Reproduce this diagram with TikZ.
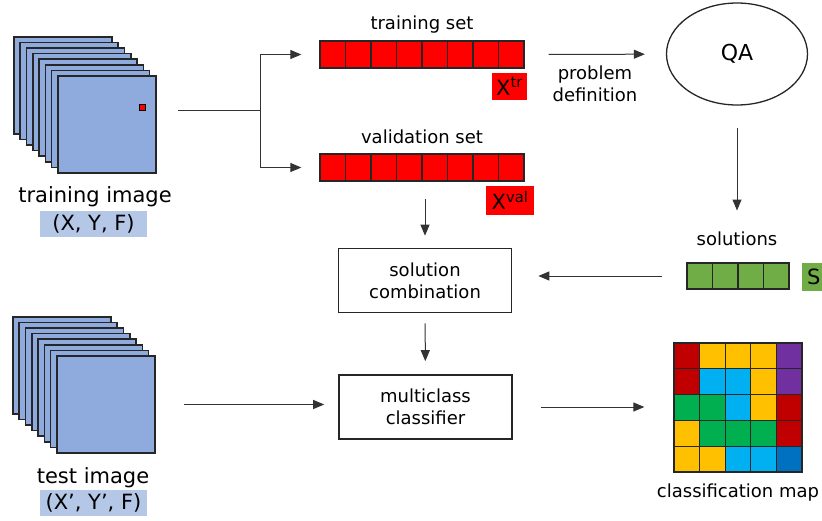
\documentclass[tikz,border=0pt]{standalone}
\usepackage{fontspec}
\setmainfont{DejaVu Sans}
\usetikzlibrary{arrows.meta,shapes.geometric}

\definecolor{imgblue}{HTML}{8FAADC}
\definecolor{lblblue}{HTML}{B4C7E7}
\definecolor{setred}{HTML}{FF0000}
\definecolor{solgreen}{HTML}{70AD47}
\definecolor{mapred}{HTML}{C00000}
\definecolor{mapyellow}{HTML}{FFC000}
\definecolor{mapcyan}{HTML}{00B0F0}
\definecolor{mapgreen}{HTML}{00B050}
\definecolor{mappurple}{HTML}{7030A0}
\definecolor{mapblue}{HTML}{0070C0}

\begin{document}
\begin{tikzpicture}[x=1pt, y=-1pt, font=\fontsize{18}{22}\selectfont,
	>={Triangle[length=11pt,width=9pt]},
	frame/.style={draw=black!85, line width=1.6pt, fill=imgblue, minimum width=98pt, minimum height=97pt, inner sep=0pt, anchor=north west},
	cell/.style={draw=black!85, line width=1.3pt, minimum width=25.5pt, minimum height=27pt, inner sep=0pt},
	tag/.style={fill=#1, inner sep=0pt, font=\fontsize{21}{24}\selectfont},
	procbox/.style={draw=black!85, line width=1.6pt, minimum width=173pt, minimum height=64pt, align=center},
	biglbl/.style={font=\fontsize{21}{24}\selectfont},
	conn/.style={->, draw=black!80, line width=1pt}]
	\useasboundingbox (0,0) rectangle (822,520);
	\clip (0,0) rectangle (822,520);
	% training image
	\foreach \i in {0,...,7}
		\node[frame] (tf\i) at ({13+6.3*\i},{36+5.6*\i}) {};
	\node[draw=black, fill=setred, line width=0.8pt, minimum size=6pt, inner sep=0pt] (px) at (142,107) {};
	\node[biglbl] (trlbl) at (95,197) {training image};
	\node[biglbl, fill=lblblue, minimum width=107pt, minimum height=26pt, inner sep=0pt] (trxyf) at (93.5,224) {(X, Y, F)};
	% test image
	\foreach \i in {0,...,7}
		\node[frame] (sf\i) at ({12+6.3*\i},{316+5.6*\i}) {};
	\node[biglbl] (tslbl) at (93,478) {test image};
	\node[biglbl, fill=lblblue, minimum width=107pt, minimum height=26pt, inner sep=0pt] (tsxyf) at (93.5,503) {(X\textquoteright, Y\textquoteright, F)};
	% training and validation sets
	\foreach \i in {1,...,8} {
		\node[cell, fill=setred] (ts\i) at ({320+25.5*(\i-0.5)},54.5) {};
		\node[cell, fill=setred] (vs\i) at ({320+25.5*(\i-0.5)},167.5) {};
	}
	\node (trsetlbl) at (422,25) {training set};
	\node (valsetlbl) at (422,137) {validation set};
	\node[tag=setred, minimum width=35pt, minimum height=27pt] (xtr) at (509.5,86.5) {X\textsuperscript{tr}};
	\node[tag=setred, minimum width=48pt, minimum height=29pt] (xval) at (510,200.5) {X\textsuperscript{val}};
	% QA and solutions
	\node[ellipse, draw=black!85, line width=1.3pt, minimum width=141pt, minimum height=102pt, font=\fontsize{22}{24}\selectfont] (qa) at (737,54) {QA};
	\node[align=center] (pdef) at (595,84) {problem\\definition};
	\node (sollbl) at (737,239) {solutions};
	\foreach \i in {1,...,4}
		\node[cell, fill=solgreen, minimum height=26pt] (sc\i) at ({687+25.5*(\i-0.5)},276) {};
	\node[tag=solgreen, anchor=west, minimum width=20pt, minimum height=28pt, inner xsep=5pt] (stag) at (802,277) {S};
	% processing boxes
	\node[procbox] (comb) at (425,280.5) {solution\\combination};
	\node[procbox] (cls) at (425.5,407) {multiclass\\classifier};
	% classification map
	\foreach \row [count=\r] in {{mapred,mapyellow,mapyellow,mapyellow,mappurple},
			{mapred,mapcyan,mapcyan,mapyellow,mappurple},
			{mapgreen,mapgreen,mapcyan,mapyellow,mapred},
			{mapyellow,mapgreen,mapgreen,mapgreen,mapred},
			{mapyellow,mapyellow,mapcyan,mapcyan,mapblue}}
		\foreach \col [count=\c] in \row
			\node[cell, fill=\col, minimum width=25.6pt, minimum height=25.8pt] (m\r\c) at ({674+25.6*(\c-0.5)},{343+25.8*(\r-0.5)}) {};
	\node (maplbl) at (738,493) {classification map};
	% connectors
	\coordinate (trout) at (178,110);
	\coordinate (split) at (260,110);
	\draw[draw=black!80, line width=1pt] (trout) -- (split);
	\draw[conn, shorten >=18pt] (split) |- (ts1);
	\draw[conn, shorten >=18pt] (split) |- (vs1);
	\draw[conn, shorten <=24pt, shorten >=21pt] (ts8) -- (qa);
	\draw[conn, shorten <=22pt, shorten >=18pt] (qa) -- (sollbl);
	\draw[conn, shorten <=24pt, shorten >=26pt] (sc1.west) -- (sc1.west -| comb.east);
	\draw[conn, shorten <=17pt, shorten >=12pt] (comb.north |- vs1.south) -- (comb.north);
	\draw[conn, shorten <=10pt, shorten >=13pt] (comb) -- (cls);
	\draw[conn, shorten <=28pt, shorten >=14pt] (sf7.east) -- (sf7.east -| cls.west);
	\draw[conn, shorten <=28pt, shorten >=29pt] (cls.east) -- (cls.east -| m31.west);
\end{tikzpicture}
\end{document}
